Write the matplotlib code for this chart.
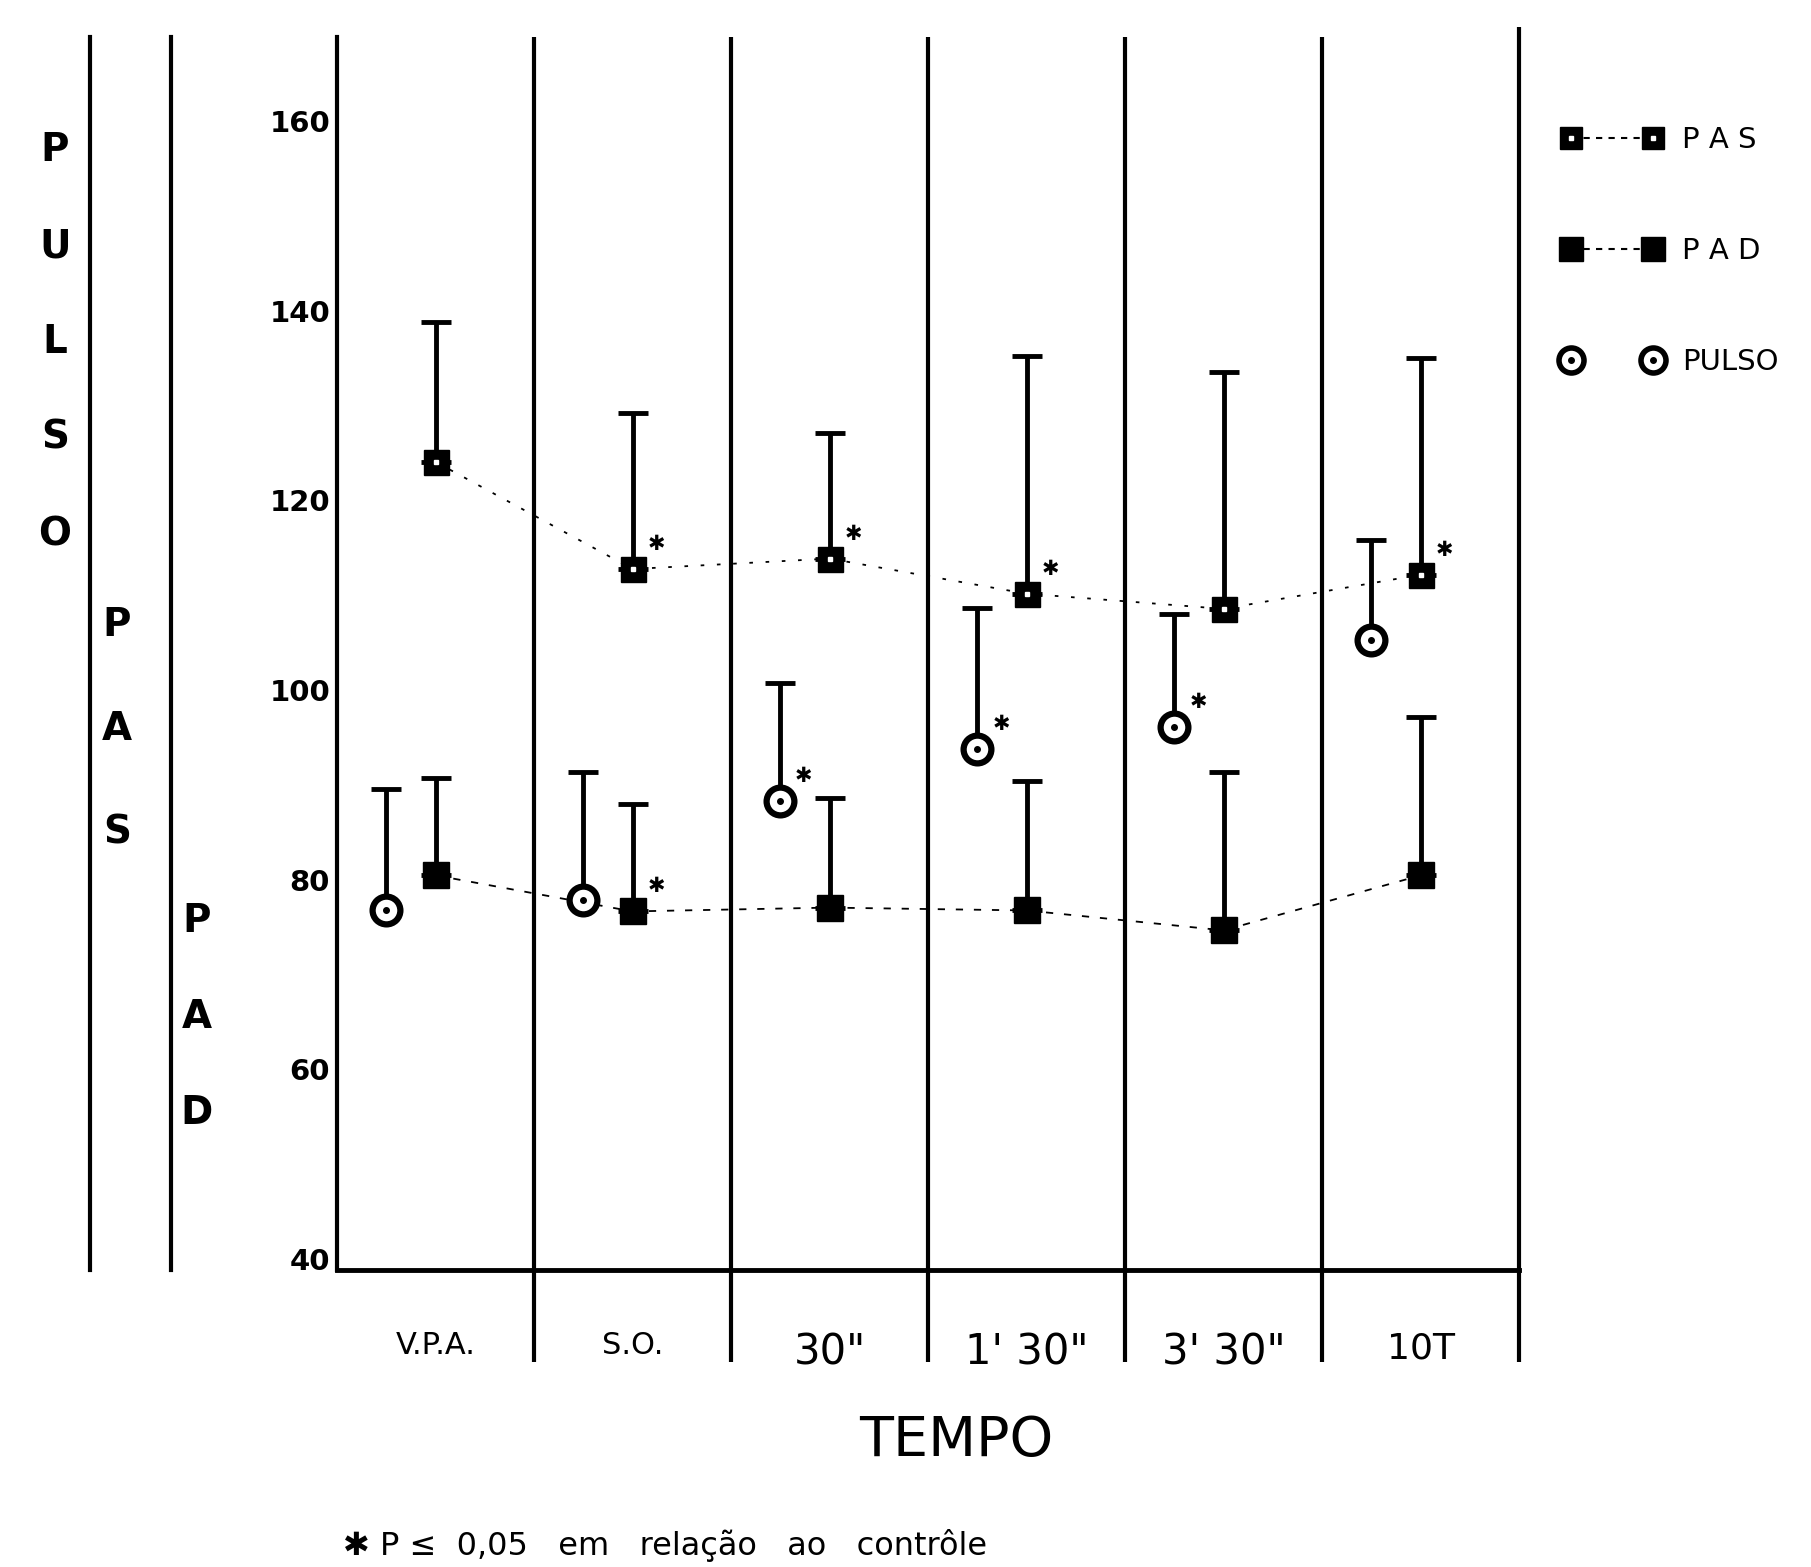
import matplotlib.pyplot as plt
from matplotlib.lines import Line2D
import numpy as np

# periods on the x axis
periods = ['V.P.A.', 'S.O.', '30"', "1' 30\"", "3' 30\"", '10T']

# mean values and top of the (upper only) error bars
pas = [125.2, 113.9, 115.0, 111.3, 109.7, 113.3]
pas_top = [140.0, 130.3, 128.2, 136.4, 134.7, 136.1]
pad = [81.6, 77.8, 78.2, 77.9, 75.8, 81.6]
pad_top = [91.9, 89.1, 89.8, 91.5, 92.5, 98.3]
pulso = [77.9, 79.0, 89.4, 94.9, 97.2, 106.4]
pulso_top = [90.7, 92.5, 101.9, 109.8, 109.2, 117.0]

# significance (P <= 0.05) flags
pas_sig = [0, 1, 1, 1, 0, 1]
pad_sig = [0, 1, 0, 0, 0, 0]
pulso_sig = [0, 0, 1, 1, 1, 0]

fig = plt.figure(figsize=(18.11, 15.67), dpi=100)
ax = fig.add_axes([0.1861, 0.1896, 0.6527, 0.7868])
ax.set_xlim(0, 6)
ax.set_ylim(40, 170)

n = len(periods)
x_pulso = np.arange(n) + 0.25
x_pa = np.arange(n) + 0.5

# connecting lines
ax.plot(x_pa, pas, color='black', lw=1.3, ls=(0, (2, 7)), zorder=2)
ax.plot(x_pa, pad, color='black', lw=1.3, ls=(0, (4, 6)), zorder=2)

# error bars (upper only)
def upper_bars(x, y, top):
    y = np.array(y)
    err = np.array(top) - y
    ax.errorbar(x, y, yerr=[np.zeros_like(err), err], fmt='none', ecolor='black',
                elinewidth=3.5, capsize=11, capthick=3.5, zorder=3)

upper_bars(x_pa, pas, pas_top)
upper_bars(x_pa, pad, pad_top)
upper_bars(x_pulso, pulso, pulso_top)

# markers
ax.plot(x_pa, pas, 's', color='black', ms=18, zorder=4)
ax.plot(x_pa, pas, 's', color='white', ms=3, zorder=5)
ax.plot(x_pa, pad, 's', color='black', ms=19, zorder=4)
ax.plot(x_pulso, pulso, 'o', mfc='white', mec='black', mew=4.5, ms=20, zorder=4)
ax.plot(x_pulso, pulso, 'o', color='black', ms=4, zorder=5)

# asterisks
for xs, ys, flags in [(x_pa, pas, pas_sig), (x_pa, pad, pad_sig), (x_pulso, pulso, pulso_sig)]:
    for xi, yi, f in zip(xs, ys, flags):
        if f:
            ax.annotate('✱', (xi, yi), xytext=(17, 18), textcoords='offset points',
                        ha='center', va='center', fontsize=15, fontweight='bold')

# separators and frame
for sp in ['top', 'right']:
    ax.spines[sp].set_visible(False)
ax.spines['left'].set_linewidth(3)
ax.spines['bottom'].set_linewidth(3.5)
ax.vlines(np.arange(1, n), 30.3, 170, color='black', lw=3, clip_on=False)
ax.vlines([n], 30.3, 171, color='black', lw=3, clip_on=False)

ax.set_yticks(range(40, 161, 20))
ax.set_yticklabels([str(v) for v in range(40, 161, 20)], fontsize=21, fontweight='bold',
                   va='baseline')
ax.set_xticks(x_pa)
ax.set_xticklabels(periods)
for lab, fs in zip(ax.get_xticklabels(), [22, 22, 30, 30, 30, 26]):
    lab.set_fontsize(fs)
ax.tick_params(axis='y', length=0, pad=5)
ax.tick_params(axis='x', length=0, pad=44)

fig.text(956 / 1811, 1 - 1441 / 1567, 'TEMPO', fontsize=40, ha='center', va='center')
fig.text(343 / 1811, 1 - 1545 / 1567, '✱ P ≤  0,05   em   relação   ao   contrôle',
         fontsize=23, ha='left', va='center')

# outer y scale lines and letter labels
for xf in [90 / 1811, 171 / 1811]:
    fig.add_artist(Line2D([xf, xf], [1 - 37 / 1567, 1 - 1270 / 1567], color='black', lw=3))

for word, xpx, y0, step in [('PULSO', 55, 150, 96), ('PAS', 117, 625, 104), ('PAD', 197, 921, 96)]:
    for k, ch in enumerate(word):
        fig.text(xpx / 1811, 1 - (y0 + k * step) / 1567, ch, fontsize=28,
                 fontweight='bold', ha='center', va='center')

# legend
h_pas = (Line2D([], [], color='black', ls=(0, (3, 3)), lw=1.5, marker='s', ms=16),
         Line2D([], [], ls='none', marker='s', color='white', ms=3))
h_pad = Line2D([], [], color='black', ls=(0, (3, 3)), lw=1.5, marker='s', ms=17)
h_pul = (Line2D([], [], ls='none', marker='o', mfc='white', mec='black', mew=4, ms=18),
         Line2D([], [], ls='none', marker='o', color='black', ms=4))
fig.legend([h_pas, h_pad, h_pul], ['P A S', 'P A D', 'PULSO'], loc='upper left',
           bbox_to_anchor=(1536 / 1811, 1 - 100 / 1567), frameon=False, fontsize=21,
           numpoints=2, handlelength=3.4, handletextpad=0.7, labelspacing=2.85)

fig.savefig('out.png', dpi=100)
